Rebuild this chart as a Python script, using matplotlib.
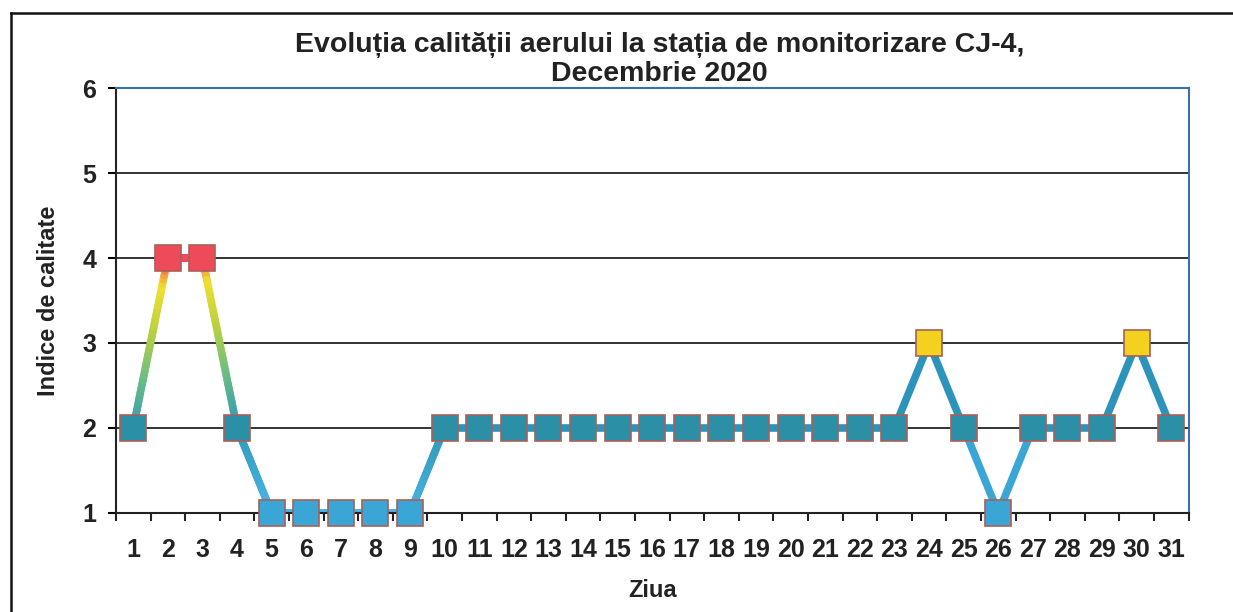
import numpy as np
import matplotlib
matplotlib.use('Agg')
from matplotlib import pyplot as plt
from matplotlib.collections import LineCollection
from matplotlib.colors import LinearSegmentedColormap

plt.rcParams['font.family'] = ['Liberation Sans', 'DejaVu Sans']

# data
days = list(range(1, 32))
values = [2, 4, 4, 2, 1, 1, 1, 1, 1, 2, 2, 2, 2, 2, 2, 2, 2, 2, 2, 2,
          2, 2, 2, 3, 2, 1, 2, 2, 2, 3, 2]
title = 'Evoluția calității aerului la stația de monitorizare CJ-4,\nDecembrie 2020'

# colours by index value
marker_colors = {1: '#3aa6d6', 2: '#2b8fa6', 3: '#f2d21e', 4: '#ef4a5a'}
grad_cmap = LinearSegmentedColormap.from_list(
    'aq', [(0.0, '#4ab4e6'), (0.33, '#2f9ab8'), (0.55, '#6fbf80'),
           (0.72, '#b8d040'), (0.9, '#f2e030'), (1.0, '#ef4a5a')])

fig = plt.figure(figsize=(12.33, 6.12), dpi=100)
ax = fig.add_axes([0.094, 0.162, 0.870, 0.694])

# lines: gradient on the left part, solid teal on the right
for i in range(len(days) - 1):
    x0, x1 = days[i], days[i + 1]
    y0, y1 = values[i], values[i + 1]
    if x0 < 10:
        t = np.linspace(0, 1, 40)
        xs = x0 + (x1 - x0) * t
        ys = y0 + (y1 - y0) * t
        pts = np.column_stack([xs, ys]).reshape(-1, 1, 2)
        segs = np.concatenate([pts[:-1], pts[1:]], axis=1)
        cvals = (ys[:-1] + ys[1:]) / 2
        lc = LineCollection(segs, colors=grad_cmap((cvals - 1) / 3),
                            linewidths=5.5, capstyle='round', zorder=2)
        ax.add_collection(lc)
    else:
        col = '#3aa6d6' if min(y0, y1) == 1 else '#2c94bb'
        ax.plot([x0, x1], [y0, y1], color=col, lw=5.5, zorder=2,
                solid_capstyle='butt')

for d, v in zip(days, values):
    ax.plot(d, v, marker='s', markersize=18.5, markerfacecolor=marker_colors[v],
            markeredgecolor='#a8605a', markeredgewidth=1.2, zorder=3,
            linestyle='none', clip_on=False)

ax.set_xlim(0.5, 31.5)
ax.set_ylim(1, 6)
ax.set_yticks([1, 2, 3, 4, 5, 6])
ax.set_xticks(days)
ax.set_xticks(np.arange(0.5, 32, 1), minor=True)
ax.tick_params(axis='x', which='major', length=0, pad=18,
               labelsize=18)
ax.tick_params(axis='x', which='minor', length=6, width=1.5, color='#222222')
ax.tick_params(axis='y', length=6, width=1.5, labelsize=18, pad=8)
for lab in ax.get_xticklabels() + ax.get_yticklabels():
    lab.set_fontweight('bold')
    lab.set_color('#222222')

ax.grid(axis='y', color='#111111', lw=1.2)
ax.set_axisbelow(True)
ax.spines['left'].set_color('#222222')
ax.spines['bottom'].set_color('#222222')
ax.spines['left'].set_linewidth(1.5)
ax.spines['bottom'].set_linewidth(1.5)
ax.spines['top'].set_color('#3a6fb0')
ax.spines['right'].set_color('#3a6fb0')
ax.spines['top'].set_linewidth(1.5)
ax.spines['right'].set_linewidth(1.5)

ax.set_xlabel('Ziua', fontsize=17, fontweight='bold', color='#222222', labelpad=12)
ax.set_ylabel('Indice de calitate', fontsize=17, fontweight='bold',
              color='#222222', labelpad=16)
fig.text(0.535, 0.858, title, ha='center', va='bottom', fontsize=20.5,
         fontweight='bold', color='#222222', linespacing=1.15)

# outer frame (top and left edges)
fig.add_artist(plt.Line2D([0.009, 1.0], [0.979, 0.979], color='#111111', lw=1.8))
fig.add_artist(plt.Line2D([0.009, 0.009], [0.979, 0.0], color='#111111', lw=1.8))

plt.savefig('out.png', dpi=100)
